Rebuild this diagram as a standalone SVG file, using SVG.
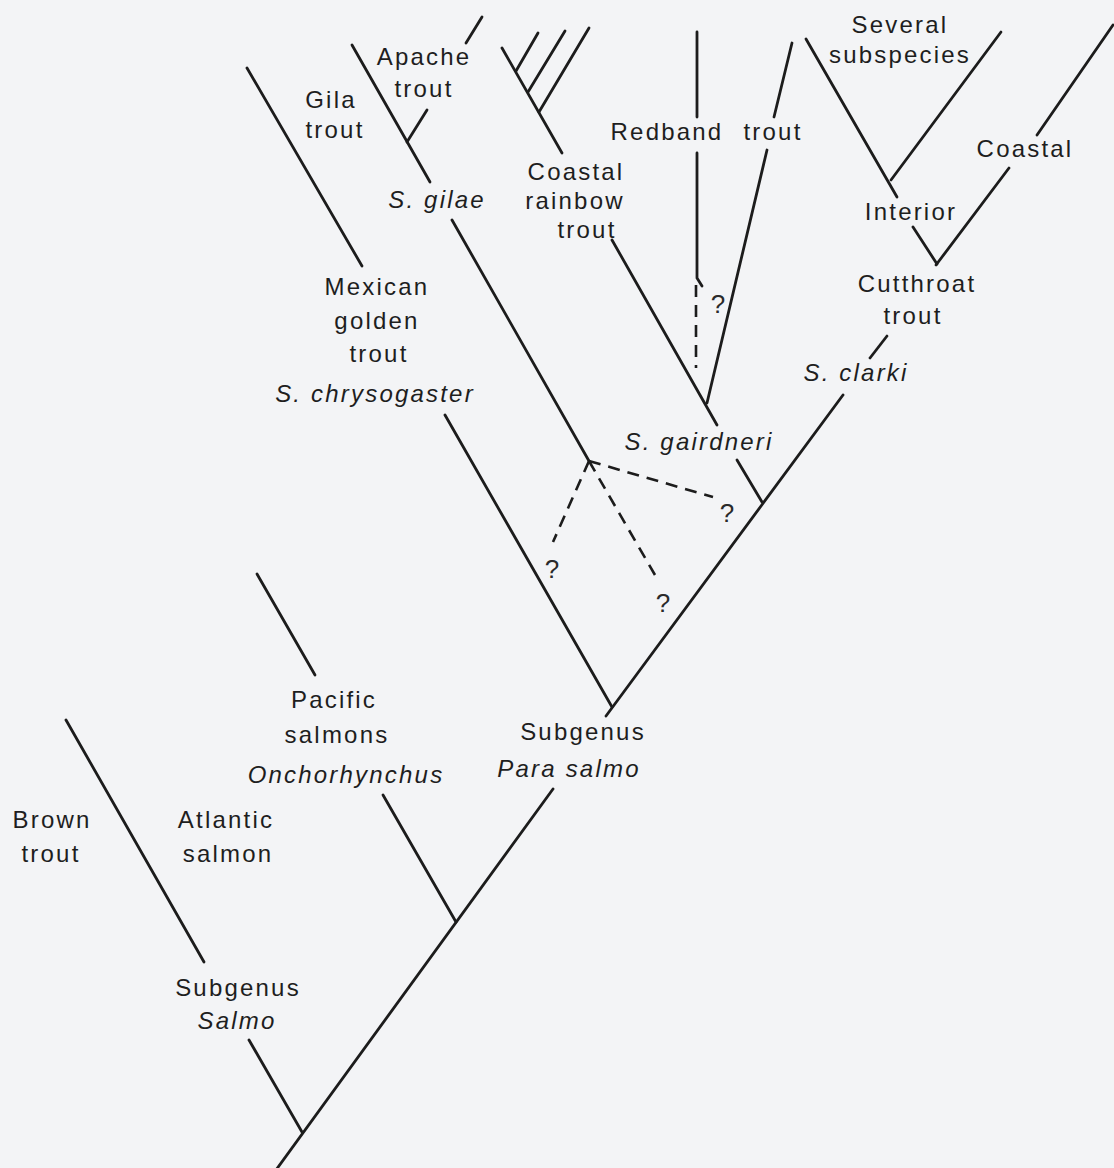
<svg xmlns="http://www.w3.org/2000/svg" width="1114" height="1168" viewBox="0 0 1114 1168">
<style>
.bg{fill:#f3f4f6}
.ln{stroke:#1c1c1c;stroke-width:2.8;fill:none;stroke-linecap:round;stroke-linejoin:round}
.ds{stroke:#1c1c1c;stroke-width:2.6;fill:none;stroke-dasharray:12 8}
text{font-family:"Liberation Sans",Arial,sans-serif;font-size:24px;fill:#1e1e1e;letter-spacing:2.2px;text-anchor:middle}
.it{font-style:italic}
.q{font-size:26px;letter-spacing:0;fill:#2a2a2a}
</style>
<rect class="bg" x="0" y="0" width="1114" height="1168"/>
<g id="connectors">
  <!-- main trunk -->
  <line class="ln" x1="276" y1="1170" x2="553" y2="789"/>
  <!-- Brown trout / Salmo -->
  <line class="ln" x1="66" y1="720" x2="204" y2="962"/>
  <line class="ln" x1="249" y1="1040" x2="302" y2="1132"/>
  <!-- Pacific salmons -->
  <line class="ln" x1="257" y1="574" x2="315" y2="675"/>
  <line class="ln" x1="383" y1="795" x2="456" y2="922"/>
  <!-- Para salmo V -->
  <line class="ln" x1="445" y1="415" x2="612" y2="707"/>
  <line class="ln" x1="843" y1="395" x2="606" y2="716"/>
  <!-- Mexican golden trout upper -->
  <line class="ln" x1="247" y1="68" x2="362" y2="266"/>
  <!-- Gila / Apache -->
  <line class="ln" x1="352" y1="45" x2="430" y2="182"/>
  <line class="ln" x1="427" y1="110" x2="407" y2="142"/>
  <line class="ln" x1="482" y1="17" x2="466" y2="43"/>
  <!-- S. gilae lower -->
  <line class="ln" x1="452" y1="220" x2="589" y2="461"/>
  <!-- dashed uncertain links -->
  <line class="ds" x1="589" y1="461" x2="713" y2="497"/>
  <line class="ds" x1="589" y1="461" x2="553" y2="542"/>
  <line class="ds" x1="589" y1="461" x2="655" y2="575"/>
  <!-- Coastal rainbow comb -->
  <line class="ln" x1="502" y1="48" x2="562" y2="153"/>
  <line class="ln" x1="538" y1="33" x2="516" y2="71"/>
  <line class="ln" x1="565" y1="31" x2="528" y2="92"/>
  <line class="ln" x1="589" y1="28" x2="539" y2="112"/>
  <!-- Coastal rainbow lower / gairdneri -->
  <line class="ln" x1="612" y1="240" x2="717" y2="425"/>
  <line class="ln" x1="737" y1="460" x2="762" y2="502"/>
  <!-- Redband -->
  <line class="ln" x1="697" y1="32" x2="697" y2="117"/>
  <polyline class="ln" points="697,153 697,278 702,286"/>
  <line class="ds" x1="696" y1="285" x2="696" y2="368"/>
  <line class="ln" x1="792" y1="43" x2="774" y2="117"/>
  <line class="ln" x1="767" y1="150" x2="707" y2="403"/>
  <!-- Cutthroat -->
  <line class="ln" x1="806" y1="39" x2="897" y2="197"/>
  <line class="ln" x1="1001" y1="32" x2="891" y2="180"/>
  <line class="ln" x1="913" y1="227" x2="937" y2="264"/>
  <line class="ln" x1="1009" y1="168" x2="936" y2="265"/>
  <line class="ln" x1="1113" y1="25" x2="1037" y2="135"/>
  <line class="ln" x1="887" y1="336" x2="870" y2="358"/>
</g>
<g id="apache-trout"><text x="424" y="65">Apache</text><text x="424" y="97">trout</text></g>
<g id="gila-trout"><text x="331" y="108">Gila</text><text x="335" y="138">trout</text></g>
<g id="s-gilae"><text class="it" x="437" y="208">S. gilae</text></g>
<g id="coastal-rainbow-trout"><text x="576" y="180">Coastal</text><text x="575" y="209">rainbow</text><text x="587" y="238">trout</text></g>
<g id="redband-trout"><text x="667" y="140">Redband</text><text x="773" y="140">trout</text></g>
<g id="several-subspecies"><text x="900" y="33">Several</text><text x="900" y="63">subspecies</text></g>
<g id="coastal-cutthroat"><text x="1025" y="157">Coastal</text></g>
<g id="interior"><text x="911" y="220">Interior</text></g>
<g id="cutthroat-trout"><text x="917" y="292">Cutthroat</text><text x="913" y="324">trout</text></g>
<g id="s-clarki"><text class="it" x="856" y="381">S. clarki</text></g>
<g id="s-gairdneri"><text class="it" x="699" y="450">S. gairdneri</text></g>
<g id="mexican-golden-trout"><text x="377" y="295">Mexican</text><text x="377" y="329">golden</text><text x="379" y="362">trout</text></g>
<g id="s-chrysogaster"><text class="it" x="375" y="402">S. chrysogaster</text></g>
<g id="uncertain-marks">
  <text class="q" x="718" y="313">?</text>
  <text class="q" x="552" y="578">?</text>
  <text class="q" x="727" y="522">?</text>
  <text class="q" x="663" y="612">?</text>
</g>
<g id="pacific-salmons"><text x="334" y="708">Pacific</text><text x="337" y="743">salmons</text><text class="it" x="346" y="783">Onchorhynchus</text></g>
<g id="subgenus-para-salmo"><text x="583" y="740">Subgenus</text><text class="it" x="569" y="777">Para salmo</text></g>
<g id="brown-trout"><text x="52" y="828">Brown</text><text x="51" y="862">trout</text></g>
<g id="atlantic-salmon"><text x="226" y="828">Atlantic</text><text x="228" y="862">salmon</text></g>
<g id="subgenus-salmo"><text x="238" y="996">Subgenus</text><text class="it" x="237" y="1029">Salmo</text></g>
</svg>
